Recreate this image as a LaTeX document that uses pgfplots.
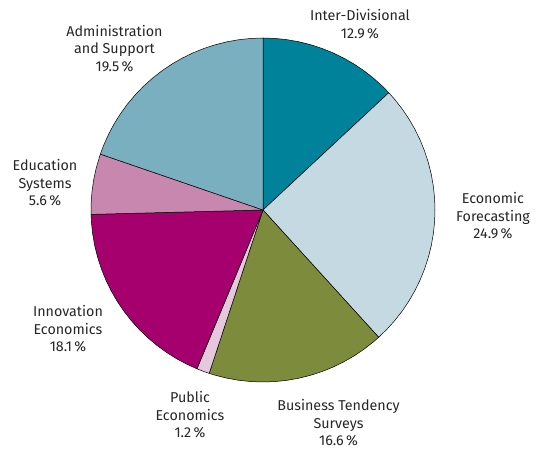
\documentclass[border=0pt]{standalone}
\usepackage{pgfplots}
\pgfplotsset{compat=1.18}
\usepackage{fontspec}
\setmainfont{Fira Sans}
\definecolor{cInter}{HTML}{00829B}
\definecolor{cEcon}{HTML}{C5D9E2}
\definecolor{cBus}{HTML}{7D8C3C}
\definecolor{cPub}{HTML}{E6C8DC}
\definecolor{cInno}{HTML}{A5006E}
\definecolor{cEdu}{HTML}{C887AF}
\definecolor{cAdm}{HTML}{7AAFC0}
\tikzset{lbl/.style={align=center, inner sep=0pt, font=\fontsize{14.3}{17.5}\selectfont, text=black!85}}
\pgfplotsset{pie/.style={draw=black, line width=0.5pt, mark=none, data cs=polar}}
\begin{document}
\begin{tikzpicture}
\begin{axis}[hide axis, x=1pt, y=1pt, xmin=-263, xmax=281, ymin=-240, ymax=210,
  clip=false]
\coordinate (SW) at (axis cs:-263,-240);
\coordinate (NE) at (axis cs:281,210);
% Inter-Divisional 12.9
\addplot[pie, fill=cInter] coordinates {(0,0) (90,172) (86,172) (82,172) (78,172) (74,172) (70,172) (66,172) (62,172) (58,172) (54,172) (50,172) (46,172) (43,172) (0,0)};
% Economic Forecasting 24.9
\addplot[pie, fill=cEcon] coordinates {(0,0) (43,172) (40,172) (36,172) (32,172) (28,172) (24,172) (20,172) (16,172) (12,172) (8,172) (4,172) (0,172) (-4,172) (-8,172) (-12,172) (-16,172) (-20,172) (-24,172) (-28,172) (-32,172) (-36,172) (-40,172) (-44,172) (-47.73,172) (0,0)};
% Business Tendency Surveys 16.6
\addplot[pie, fill=cBus] coordinates {(0,0) (-47.73,172) (-50,172) (-54,172) (-58,172) (-62,172) (-66,172) (-70,172) (-74,172) (-78,172) (-82,172) (-86,172) (-90,172) (-94,172) (-98,172) (-102,172) (-106,172) (-108.22,172) (0,0)};
% Public Economics 1.2
\addplot[pie, fill=cPub] coordinates {(0,0) (-108.22,172) (-110.4,172) (-112.59,172) (0,0)};
% Innovation Economics 18.1
\addplot[pie, fill=cInno] coordinates {(0,0) (-112.59,172) (-116,172) (-120,172) (-124,172) (-128,172) (-132,172) (-136,172) (-140,172) (-144,172) (-148,172) (-152,172) (-156,172) (-160,172) (-164,172) (-168,172) (-172,172) (-176,172) (-178.54,172) (0,0)};
% Education Systems 5.6
\addplot[pie, fill=cEdu] coordinates {(0,0) (-178.54,172) (-182,172) (-186,172) (-190,172) (-194,172) (-198.95,172) (0,0)};
% Administration and Support 19.5
\addplot[pie, fill=cAdm] coordinates {(0,0) (-198.95,172) (-202,172) (-206,172) (-210,172) (-214,172) (-218,172) (-222,172) (-226,172) (-230,172) (-234,172) (-238,172) (-242,172) (-246,172) (-250,172) (-254,172) (-258,172) (-262,172) (-266,172) (-270,172) (0,0)};
% labels
\node[lbl] at (axis cs:97,186) {Inter-Divisional\\12.9\,\%};
\node[lbl] at (axis cs:230,-6) {Economic\\Forecasting\\24.9\,\%};
\node[lbl] at (axis cs:75.5,-213) {Business Tendency\\Surveys\\16.6\,\%};
\node[lbl] at (axis cs:-73,-205) {Public\\Economics\\1.2\,\%};
\node[lbl] at (axis cs:-195,-119) {Innovation\\Economics\\18.1\,\%};
\node[lbl] at (axis cs:-218,27) {Education\\Systems\\5.6\,\%};
\node[lbl] at (axis cs:-148.5,161.5) {Administration\\and Support\\19.5\,\%};
\end{axis}
\pgfresetboundingbox
\path (SW) rectangle (NE);
\end{tikzpicture}
\end{document}
